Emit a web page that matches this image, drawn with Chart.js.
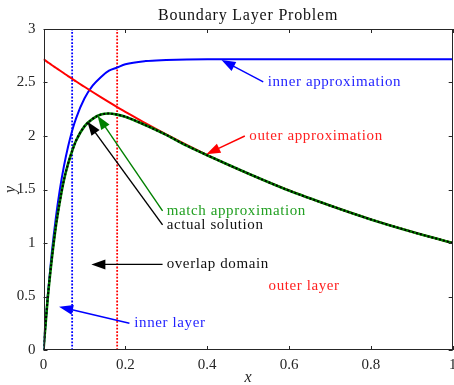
<!DOCTYPE html>
<html>
<head>
<meta charset="utf-8">
<script src="https://cdn.jsdelivr.net/npm/chart.js@4"></script>
<style>
  html, body { margin: 0; padding: 0; background: #fff; }
  #wrap { width: 454px; height: 385px; }
</style>
</head>
<body>
<div id="wrap"><canvas id="bl"></canvas></div>
<script>
// x positions sampled along the curves
const xs = [0, 0.01, 0.02, 0.03, 0.04, 0.05, 0.06, 0.07, 0.08, 0.1, 0.12, 0.14, 0.16, 0.18, 0.2, 0.25, 0.3, 0.35, 0.4, 0.5, 0.6, 0.7, 0.8, 0.9, 1];
// inner approximation (blue)
const innerApprox = [0, 0.49, 0.90, 1.23, 1.50, 1.72, 1.90, 2.05, 2.17, 2.35, 2.47, 2.55, 2.61, 2.64, 2.67, 2.70, 2.71, 2.716, 2.718, 2.718, 2.718, 2.718, 2.718, 2.718, 2.718];
// outer approximation (red)
const outerApprox = [2.718, 2.691, 2.664, 2.638, 2.612, 2.586, 2.560, 2.535, 2.509, 2.460, 2.411, 2.363, 2.316, 2.270, 2.226, 2.117, 2.014, 1.916, 1.822, 1.649, 1.492, 1.350, 1.221, 1.105, 1.0];
// match approximation (green) and actual solution (black dotted)
const matchApprox = [0, 0.47, 0.84, 1.15, 1.39, 1.59, 1.74, 1.86, 1.96, 2.09, 2.16, 2.20, 2.21, 2.20, 2.18, 2.10, 2.01, 1.91, 1.82, 1.65, 1.49, 1.35, 1.22, 1.105, 1.0];
const actualSol = [0, 0.47, 0.84, 1.15, 1.39, 1.59, 1.74, 1.86, 1.96, 2.09, 2.16, 2.20, 2.21, 2.20, 2.18, 2.10, 2.01, 1.91, 1.82, 1.65, 1.49, 1.35, 1.22, 1.105, 1.0];
// dotted vertical markers
const innerLayerX = 0.07;
const overlapX = 0.18;
const yRange = [0, 3];
const xTicks = [0, 0.2, 0.4, 0.6, 0.8, 1];
const yTicks = [0, 0.5, 1, 1.5, 2, 2.5, 3];

// text + arrows, in data units: tip, tail, label position
const notes = [
  { text: 'inner approximation', color: '#0000ff', textColor: '#1f1fff', tip: [0.435, 2.71], tail: [0.537, 2.505], at: [0.548, 2.5] },
  { text: 'outer approximation', color: '#ff0000', textColor: '#ff1f1f', tip: [0.398, 1.83], tail: [0.492, 2.0], at: [0.503, 2.0] },
  { text: 'match approximation', color: '#008000', textColor: '#22a022', tip: [0.132, 2.19], tail: [0.291, 1.30], at: [0.301, 1.30] },
  { text: 'actual solution', color: '#000000', textColor: '#111', tip: [0.107, 2.135], tail: [0.291, 1.17], at: [0.301, 1.17] },
  { text: 'overlap domain', color: '#000000', textColor: '#111', tip: [0.117, 0.8], tail: [0.291, 0.8], at: [0.301, 0.8] },
  { text: 'inner layer', color: '#0000ff', textColor: '#1f1fff', tip: [0.038, 0.405], tail: [0.21, 0.25], at: [0.222, 0.25] },
  { text: 'outer layer', color: null, textColor: '#ff1f1f', at: [0.55, 0.6] }
];

const serif = '"Liberation Serif", "Times New Roman", serif';
const pts = (ys) => xs.map((x, i) => ({ x: x, y: ys[i] }));
const fmt = (v) => String(Math.round(v * 10) / 10);

const extras = {
  id: 'extras',
  afterDatasetsDraw(chart) {
    const ctx = chart.ctx;
    const sx = chart.scales.x, sy = chart.scales.y;
    ctx.save();
    notes.forEach(n => {
      if (n.tip) {
        const x1 = sx.getPixelForValue(n.tail[0]), y1 = sy.getPixelForValue(n.tail[1]);
        const x2 = sx.getPixelForValue(n.tip[0]), y2 = sy.getPixelForValue(n.tip[1]);
        const ang = Math.atan2(y2 - y1, x2 - x1);
        const len = 14, hw = 5;
        ctx.strokeStyle = n.color;
        ctx.fillStyle = n.color;
        ctx.lineWidth = 1.4;
        ctx.beginPath();
        ctx.moveTo(x1, y1);
        ctx.lineTo(x2 - Math.cos(ang) * len * 0.8, y2 - Math.sin(ang) * len * 0.8);
        ctx.stroke();
        ctx.beginPath();
        ctx.moveTo(x2, y2);
        ctx.lineTo(x2 - Math.cos(ang) * len - Math.sin(ang) * hw, y2 - Math.sin(ang) * len + Math.cos(ang) * hw);
        ctx.lineTo(x2 - Math.cos(ang) * len + Math.sin(ang) * hw, y2 - Math.sin(ang) * len - Math.cos(ang) * hw);
        ctx.closePath();
        ctx.fill();
      }
      ctx.font = '15px ' + serif;
      ctx.letterSpacing = '0.6px';
      ctx.fillStyle = n.textColor;
      ctx.textAlign = 'left';
      ctx.textBaseline = 'middle';
      ctx.fillText(n.text, sx.getPixelForValue(n.at[0]), sy.getPixelForValue(n.at[1]));
    });
    ctx.restore();
  },
  afterDraw(chart) {
    const ctx = chart.ctx;
    const a = chart.chartArea;
    const sx = chart.scales.x, sy = chart.scales.y;
    ctx.save();
    // box
    ctx.strokeStyle = '#262626';
    ctx.lineWidth = 1;
    ctx.strokeRect(Math.round(a.left) + 0.5, Math.round(a.top) + 0.5, Math.round(a.right - a.left) - 1, Math.round(a.bottom - a.top) - 1);
    // inward tick marks
    ctx.beginPath();
    xTicks.forEach(v => {
      const px = Math.round(sx.getPixelForValue(v)) + 0.5;
      ctx.moveTo(px, a.bottom); ctx.lineTo(px, a.bottom - 4);
      ctx.moveTo(px, a.top); ctx.lineTo(px, a.top + 4);
    });
    yTicks.forEach(v => {
      const py = Math.round(sy.getPixelForValue(v)) + 0.5;
      ctx.moveTo(a.left, py); ctx.lineTo(a.left + 4, py);
      ctx.moveTo(a.right, py); ctx.lineTo(a.right - 4, py);
    });
    ctx.stroke();
    // title
    ctx.fillStyle = '#111';
    ctx.font = '16px ' + serif;
    ctx.letterSpacing = '0.8px';
    ctx.textAlign = 'center';
    ctx.textBaseline = 'alphabetic';
    ctx.fillText('Boundary Layer Problem', (a.left + a.right) / 2, 20);
    // axis titles
    ctx.font = 'italic 16px ' + serif;
    ctx.letterSpacing = '0px';
    ctx.fillStyle = '#262626';
    ctx.textBaseline = 'middle';
    ctx.fillText('x', (a.left + a.right) / 2, 378);
    ctx.translate(11, (a.top + a.bottom) / 2);
    ctx.rotate(-Math.PI / 2);
    ctx.fillText('y', 0, 0);
    ctx.restore();
  }
};

new Chart(document.getElementById('bl'), {
  type: 'line',
  data: {
    datasets: [
      { label: 'actual solution', data: pts(actualSol), borderColor: '#000000', borderWidth: 2, borderDash: [2, 2], pointRadius: 0, cubicInterpolationMode: 'monotone' },
      { label: 'match approximation', data: pts(matchApprox), borderColor: '#008000', borderWidth: 2.6, pointRadius: 0, cubicInterpolationMode: 'monotone' },
      { label: 'outer approximation', data: pts(outerApprox), borderColor: '#ff0000', borderWidth: 2, pointRadius: 0, cubicInterpolationMode: 'monotone' },
      { label: 'inner approximation', data: pts(innerApprox), borderColor: '#0000ff', borderWidth: 2, pointRadius: 0, cubicInterpolationMode: 'monotone' },
      { label: 'overlap', data: yRange.map(y => ({ x: overlapX, y: y })), borderColor: '#ff0000', borderWidth: 1.8, borderDash: [1.8, 1.6], pointRadius: 0 },
      { label: 'inner layer', data: yRange.map(y => ({ x: innerLayerX, y: y })), borderColor: '#0000ff', borderWidth: 1.8, borderDash: [1.8, 1.6], pointRadius: 0 }
    ]
  },
  options: {
    responsive: true,
    maintainAspectRatio: false,
    animation: false,
    layout: { padding: { top: 29, right: 1.3, left: 0, bottom: 0 } },
    plugins: { legend: { display: false }, tooltip: { enabled: false }, title: { display: false } },
    scales: {
      x: {
        type: 'linear', min: 0, max: 1,
        grid: { display: false, drawTicks: false },
        border: { display: false },
        ticks: { stepSize: 0.2, padding: 6, color: '#262626', font: { family: serif, size: 15 }, callback: fmt },
        afterFit(s) { s.height = 35; s.paddingLeft = 0; s.paddingRight = 0; }
      },
      y: {
        type: 'linear', min: 0, max: 3,
        grid: { display: false, drawTicks: false },
        border: { display: false },
        ticks: { stepSize: 0.5, padding: 8, color: '#262626', font: { family: serif, size: 15 }, callback: fmt },
        afterFit(s) { s.width = 43.5; s.paddingTop = 0; s.paddingBottom = 0; }
      }
    }
  },
  plugins: [extras]
});
</script>
</body>
</html>
